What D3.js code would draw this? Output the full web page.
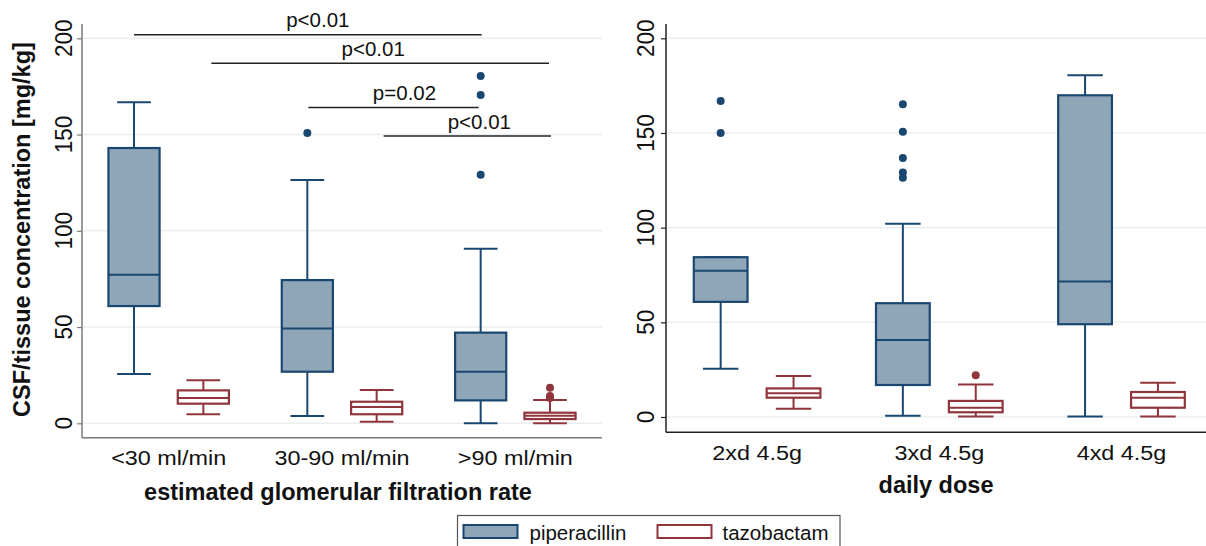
<!DOCTYPE html>
<html>
<head>
<meta charset="utf-8">
<script src="https://cdn.jsdelivr.net/npm/d3@7"></script>
<style>
  html, body { margin: 0; padding: 0; background: #fff; }
  svg { display: block; font-family: "Liberation Sans", Arial, sans-serif; }
</style>
</head>
<body>
<svg id="chart" width="1206" height="546"></svg>
<script>
// ---------- DATA ----------
const seriesNames = ["piperacillin", "tazobactam"];
const yTicks = [0, 50, 100, 150, 200];

// Left panel: estimated glomerular filtration rate
const gfrGroups = ["<30 ml/min", "30-90 ml/min", ">90 ml/min"];
const gfrPipLow    = [25.6, 3.8, 0];
const gfrPipQ1     = [60.9, 26.8, 11.9];
const gfrPipMedian = [77.2, 49.2, 26.8];
const gfrPipQ3     = [143.0, 74.4, 47.1];
const gfrPipHigh   = [166.8, 126.4, 90.7];
const gfrPipOut    = [[], [150.8], [180.4, 170.5, 129.1]];

const gfrTazLow    = [4.7, 0.8, 0];
const gfrTazQ1     = [10.2, 4.7, 2.2];
const gfrTazMedian = [13.1, 8.5, 3.9];
const gfrTazQ3     = [17.1, 11.2, 5.5];
const gfrTazHigh   = [22.3, 17.3, 12.1];
const gfrTazOut    = [[], [], [18.5, 14.2, 13.1]];

// significance brackets: [fromGroup, fromSeries, toGroup, toSeries, yValue, label]
const gfrCompFrom  = [[0, 0], [0, 1], [1, 0], [1, 1]];
const gfrCompTo    = [[2, 0], [2, 1], [2, 0], [2, 1]];
const gfrCompY     = [201.9, 187.0, 164.0, 149.2];
const gfrCompLabel = ["p<0.01", "p<0.01", "p=0.02", "p<0.01"];

// Right panel: daily dose
const doseGroups = ["2xd 4.5g", "3xd 4.5g", "4xd 4.5g"];
const dosePipLow    = [25.5, 0.7, 0.2];
const dosePipQ1     = [60.8, 16.9, 49.0];
const dosePipMedian = [77.3, 40.7, 71.5];
const dosePipQ3     = [84.4, 60.1, 169.9];
const dosePipHigh   = [84.4, 102.0, 180.5];
const dosePipOut    = [[166.9, 150.0], [165.2, 150.7, 136.8, 129.1, 126.4], []];

const doseTazLow    = [4.4, 0.2, 0.2];
const doseTazQ1     = [10.2, 2.5, 4.9];
const doseTazMedian = [12.5, 4.9, 10.2];
const doseTazQ3     = [15.1, 8.5, 13.2];
const doseTazHigh   = [21.7, 17.1, 18.1];
const doseTazOut    = [[], [22.0], []];

// ---------- STYLE / LAYOUT ----------
const colors = {
  pipStroke: "#1a476f", pipFill: "#8fa5b8",
  tazStroke: "#90353b", tazFill: "#ffffff",
  grid: "#e9eff0"
};
// pixel tweaks for bracket ends and label offsets (layout only)
const compStartDx = [0, 8, 1, 7];
const compEndDx   = [1, -1, -2, 1];
const compTextDx  = [10, -7, 11, 12];

const svg = d3.select("#chart");

function buildSeries(low, q1, med, q3, high, out) {
  return low.map((_, i) => ({low: low[i], q1: q1[i], med: med[i], q3: q3[i], high: high[i], out: out[i]}));
}

function drawPanel(cfg) {
  const g = svg.append("g");
  const x = d3.scaleBand().domain(cfg.groups).range([cfg.x0, cfg.x1]).padding(0);
  const y = d3.scaleLinear().domain([0, 200]).range([cfg.yZero, cfg.y200]);
  const bw = x.bandwidth();
  const boxW = bw * 0.295;
  const capW = boxW * 0.66;
  const off = [-0.2 * bw, 0.2 * bw];

  // gridlines
  g.append("g").selectAll("line").data(yTicks).join("line")
    .attr("x1", cfg.x0).attr("x2", cfg.x1)
    .attr("y1", d => y(d)).attr("y2", d => y(d))
    .attr("stroke", colors.grid).attr("stroke-width", 1.5);

  // axes via d3 axis
  const yAxis = d3.axisLeft(y).tickValues(yTicks).tickSize(5).tickFormat("");
  const ya = g.append("g").attr("transform", `translate(${cfg.x0},0)`).call(yAxis);
  ya.select(".domain").remove();
  ya.selectAll(".tick line").attr("stroke", cfg.axisColor).attr("stroke-width", 1.2);
  g.append("line").attr("x1", cfg.x0).attr("x2", cfg.x0).attr("y1", cfg.axisTop).attr("y2", cfg.axisBottom)
    .attr("stroke", cfg.axisColor).attr("stroke-width", 1.5);
  g.append("line").attr("x1", cfg.x0).attr("x2", cfg.x1).attr("y1", cfg.axisBottom).attr("y2", cfg.axisBottom)
    .attr("stroke", cfg.axisColor).attr("stroke-width", 1.5);

  // y tick labels (rotated)
  g.append("g").selectAll("text").data(yTicks).join("text")
    .attr("transform", d => `translate(${cfg.yLabelX},${y(d)}) scale(1.1,1) rotate(-90)`)
    .attr("text-anchor", "middle")
    .attr("font-size", 22.5)
    .attr("fill", "#111")
    .text(d => d);

  // category labels
  g.append("g").selectAll("text").data(cfg.groups).join("text")
    .attr("transform", d => `translate(${x(d) + bw / 2},${cfg.catY}) scale(1.12,1)`)
    .attr("text-anchor", "middle")
    .attr("font-size", 20.9)
    .attr("fill", "#111")
    .text(d => d);

  // x title
  g.append("text")
    .attr("x", (cfg.x0 + Math.min(cfg.x1, 1206) + (cfg.titleShift || 0)) / 2)
    .attr("y", cfg.titleY)
    .attr("text-anchor", "middle")
    .attr("font-size", 23.5).attr("font-weight", "bold").attr("fill", "#111")
    .text(cfg.xTitle);

  // boxes
  cfg.series.forEach((ser, si) => {
    const stroke = si === 0 ? colors.pipStroke : colors.tazStroke;
    const fill = si === 0 ? colors.pipFill : colors.tazFill;
    const sg = g.append("g");
    ser.forEach((d, gi) => {
      const cx = x(cfg.groups[gi]) + bw / 2 + off[si];
      const b = sg.append("g");
      // whiskers
      b.append("line").attr("x1", cx).attr("x2", cx).attr("y1", y(d.q3)).attr("y2", y(d.high))
        .attr("stroke", stroke).attr("stroke-width", 2);
      b.append("line").attr("x1", cx).attr("x2", cx).attr("y1", y(d.q1)).attr("y2", y(d.low))
        .attr("stroke", stroke).attr("stroke-width", 2);
      [d.high, d.low].forEach(v => {
        b.append("line").attr("x1", cx - capW / 2).attr("x2", cx + capW / 2)
          .attr("y1", y(v)).attr("y2", y(v))
          .attr("stroke", stroke).attr("stroke-width", 2);
      });
      // box
      b.append("rect").attr("x", cx - boxW / 2).attr("width", boxW)
        .attr("y", y(d.q3)).attr("height", y(d.q1) - y(d.q3))
        .attr("fill", fill).attr("stroke", stroke).attr("stroke-width", 2.2);
      b.append("line").attr("x1", cx - boxW / 2).attr("x2", cx + boxW / 2)
        .attr("y1", y(d.med)).attr("y2", y(d.med))
        .attr("stroke", stroke).attr("stroke-width", 2);
      // outliers
      b.selectAll("circle").data(d.out).join("circle")
        .attr("cx", cx).attr("cy", v => y(v)).attr("r", 4)
        .attr("fill", stroke);
    });
  });

  return {x, y, bw, off, g};
}

const left = drawPanel({
  groups: gfrGroups,
  x0: 82, x1: 602, yZero: 423.3, y200: 38.3, axisTop: 24, axisBottom: 437.7,
  axisColor: "#7a7a7a", yLabelX: 72, catY: 465, titleY: 500,
  xTitle: "estimated glomerular filtration rate", titleShift: -8,
  series: [
    buildSeries(gfrPipLow, gfrPipQ1, gfrPipMedian, gfrPipQ3, gfrPipHigh, gfrPipOut),
    buildSeries(gfrTazLow, gfrTazQ1, gfrTazMedian, gfrTazQ3, gfrTazHigh, gfrTazOut)
  ]
});

const right = drawPanel({
  groups: doseGroups,
  x0: 666, x1: 1212.6, yZero: 417, y200: 38.3, axisTop: 24, axisBottom: 432.3,
  axisColor: "#222", yLabelX: 653.5, catY: 460, titleY: 492.5,
  xTitle: "daily dose", titleShift: 0,
  series: [
    buildSeries(dosePipLow, dosePipQ1, dosePipMedian, dosePipQ3, dosePipHigh, dosePipOut),
    buildSeries(doseTazLow, doseTazQ1, doseTazMedian, doseTazQ3, doseTazHigh, doseTazOut)
  ]
});
// right x-title centre fix to the middle group
right.g.select("text:last-of-type");

// y-axis title (left)
svg.append("text")
  .attr("transform", "translate(30,229.5) rotate(-90)")
  .attr("text-anchor", "middle")
  .attr("font-size", 23.5).attr("font-weight", "bold").attr("fill", "#111")
  .text("CSF/tissue concentration [mg/kg]");

// significance brackets (left panel)
const comp = svg.append("g");
gfrCompLabel.forEach((lab, i) => {
  const cxOf = (gs) => left.x(gfrGroups[gs[0]]) + left.bw / 2 + left.off[gs[1]];
  const xa = cxOf(gfrCompFrom[i]) + compStartDx[i];
  const xb = cxOf(gfrCompTo[i]) + compEndDx[i];
  const yy = left.y(gfrCompY[i]);
  comp.append("line").attr("x1", xa).attr("x2", xb).attr("y1", yy).attr("y2", yy)
    .attr("stroke", "#222").attr("stroke-width", 1.5);
  comp.append("text").attr("x", (xa + xb) / 2 + compTextDx[i]).attr("y", yy - 7.5)
    .attr("text-anchor", "middle").attr("font-size", 20.5).attr("fill", "#111")
    .text(lab);
});

// legend
const leg = svg.append("g");
leg.append("rect").attr("x", 457.5).attr("y", 515.5).attr("width", 382.5).attr("height", 40)
  .attr("fill", "#fff").attr("stroke", "#555").attr("stroke-width", 1.2);
const legX = [463.5, 657.5];
const legTextX = [529.5, 722.5];
seriesNames.forEach((s, i) => {
  leg.append("rect").attr("x", legX[i]).attr("y", 525).attr("width", 54).attr("height", 13)
    .attr("fill", i === 0 ? colors.pipFill : colors.tazFill)
    .attr("stroke", i === 0 ? colors.pipStroke : colors.tazStroke).attr("stroke-width", 2);
  leg.append("text").attr("x", legTextX[i]).attr("y", 539.5)
    .attr("font-size", 20.5).attr("fill", "#111").text(s);
});
</script>
</body>
</html>
